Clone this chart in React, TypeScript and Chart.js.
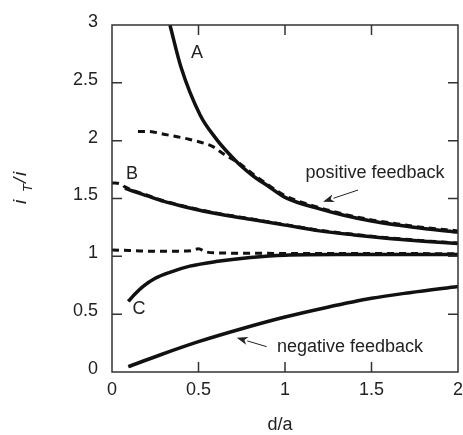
import React, { useEffect, useRef } from "react";
import { Chart, registerables } from "chart.js";

Chart.register(...registerables);

// Curve A (solid)
const xA = [0.335, 0.4, 0.51, 0.6, 0.68, 0.74, 0.82, 0.9, 1.0, 1.2, 1.34, 1.5, 1.65, 1.8, 2.0];
const yA = [3.0, 2.63, 2.22, 2.02, 1.88, 1.79, 1.69, 1.61, 1.51, 1.41, 1.355, 1.305, 1.27, 1.24, 1.21];
// Positive feedback theory (dashed)
const xPos = [0.15, 0.2, 0.32, 0.45, 0.58, 0.65, 0.74, 0.82, 0.9, 1.0, 1.2, 1.34, 1.5, 1.65, 1.8, 2.0];
const yPos = [2.08, 2.08, 2.05, 2.01, 1.95, 1.88, 1.8, 1.705, 1.62, 1.525, 1.42, 1.365, 1.315, 1.28, 1.25, 1.22];
// Curve B (solid)
const xB = [0.075, 0.12, 0.2, 0.3, 0.43, 0.6, 0.8, 1.0, 1.2, 1.4, 1.6, 1.8, 2.0];
const yB = [1.59, 1.565, 1.525, 1.475, 1.425, 1.37, 1.32, 1.27, 1.22, 1.185, 1.155, 1.13, 1.11];
// Dashed along B
const xBd = [0.0, 0.05, 0.075, 0.12, 0.2, 0.3, 0.43, 0.6, 0.8, 1.0, 1.2, 1.4, 1.6, 1.8, 2.0];
const yBd = [1.635, 1.625, 1.6, 1.57, 1.53, 1.48, 1.43, 1.375, 1.325, 1.275, 1.225, 1.19, 1.16, 1.135, 1.115];
// Flat dashed near 1
const xFlat = [0.0, 0.1, 0.2, 0.3, 0.4, 0.46, 0.5, 0.54, 0.6, 0.8, 1.0, 1.5, 2.0];
const yFlat = [1.055, 1.05, 1.045, 1.045, 1.045, 1.05, 1.065, 1.04, 1.03, 1.027, 1.025, 1.025, 1.022];
// Curve C (solid)
const xC = [0.094, 0.13, 0.18, 0.25, 0.33, 0.45, 0.6, 0.8, 1.0, 1.3, 1.6, 2.0];
const yC = [0.61, 0.67, 0.74, 0.81, 0.86, 0.915, 0.955, 0.99, 1.01, 1.015, 1.015, 1.015];
// Negative feedback (solid)
const xNeg = [0.094, 0.277, 0.5, 0.76, 1.0, 1.24, 1.5, 1.72, 2.0];
const yNeg = [0.046, 0.147, 0.262, 0.378, 0.475, 0.558, 0.637, 0.686, 0.74];

const xTicks = [0, 0.5, 1, 1.5, 2];
const yTicks = [0, 0.5, 1, 1.5, 2, 2.5, 3];

const labels = [
  { text: "A", x: 0.491, y: 2.757 },
  { text: "B", x: 0.116, y: 1.711 },
  { text: "C", x: 0.156, y: 0.545 },
  { text: "positive feedback", x: 1.52, y: 1.72 },
  { text: "negative feedback", x: 1.376, y: 0.216 },
];
const arrows = [
  { x0: 1.422, y0: 1.573, x1: 1.22, y1: 1.472 },
  { x0: 0.894, y0: 0.219, x1: 0.721, y1: 0.296 },
];

const FONT = "'Liberation Sans', Arial, sans-serif";

function pts(xs: number[], ys: number[]) {
  return xs.map((x, i) => ({ x, y: ys[i] }));
}

export default function App() {
  const ref = useRef<HTMLCanvasElement | null>(null);
  useEffect(() => {
    document.body.style.margin = "0";
    const canvas = ref.current!;
    const solid = (xs: number[], ys: number[]) => ({
      data: pts(xs, ys),
      borderColor: "#111",
      borderWidth: 3.5,
      pointRadius: 0,
      showLine: true,
      fill: false,
      cubicInterpolationMode: "monotone" as const,
    });
    const dashed = (xs: number[], ys: number[]) => ({
      data: pts(xs, ys),
      borderColor: "#111",
      borderWidth: 3,
      borderDash: [7, 5],
      pointRadius: 0,
      showLine: true,
      fill: false,
      cubicInterpolationMode: "monotone" as const,
    });

    const decor = {
      id: "decor",
      afterDraw(chart: any) {
        const ctx = chart.ctx as CanvasRenderingContext2D;
        const a = chart.chartArea;
        const xs = chart.scales.x;
        const ys = chart.scales.y;
        ctx.save();
        // frame
        ctx.strokeStyle = "#333";
        ctx.lineWidth = 1.5;
        ctx.strokeRect(a.left, a.top, a.right - a.left, a.bottom - a.top);
        // inward ticks
        const tl = 10;
        ctx.beginPath();
        xTicks.slice(1, -1).forEach((v) => {
          const px = xs.getPixelForValue(v);
          ctx.moveTo(px, a.bottom);
          ctx.lineTo(px, a.bottom - tl);
          ctx.moveTo(px, a.top);
          ctx.lineTo(px, a.top + tl);
        });
        yTicks.slice(1, -1).forEach((v) => {
          const py = ys.getPixelForValue(v);
          ctx.moveTo(a.left, py);
          ctx.lineTo(a.left + tl, py);
          ctx.moveTo(a.right, py);
          ctx.lineTo(a.right - tl, py);
        });
        ctx.stroke();

        // annotations
        ctx.fillStyle = "#222";
        ctx.font = `18px ${FONT}`;
        ctx.textAlign = "center";
        ctx.textBaseline = "middle";
        labels.forEach((l) => {
          ctx.fillText(l.text, xs.getPixelForValue(l.x), ys.getPixelForValue(l.y));
        });
        // arrows
        ctx.strokeStyle = "#222";
        ctx.lineWidth = 1;
        arrows.forEach((ar) => {
          const x0 = xs.getPixelForValue(ar.x0);
          const y0 = ys.getPixelForValue(ar.y0);
          const x1 = xs.getPixelForValue(ar.x1);
          const y1 = ys.getPixelForValue(ar.y1);
          const ang = Math.atan2(y1 - y0, x1 - x0);
          const hl = 11;
          const hw = 4;
          const bx = x1 - hl * Math.cos(ang);
          const by = y1 - hl * Math.sin(ang);
          ctx.beginPath();
          ctx.moveTo(x0, y0);
          ctx.lineTo(bx, by);
          ctx.stroke();
          ctx.beginPath();
          ctx.moveTo(x1, y1);
          ctx.lineTo(bx + hw * Math.sin(ang), by - hw * Math.cos(ang));
          ctx.lineTo(bx + 3 * Math.cos(ang), by + 3 * Math.sin(ang));
          ctx.lineTo(bx - hw * Math.sin(ang), by + hw * Math.cos(ang));
          ctx.closePath();
          ctx.fill();
        });

        // x title
        ctx.font = `18px ${FONT}`;
        ctx.textAlign = "center";
        ctx.textBaseline = "alphabetic";
        ctx.fillText("d/a", (a.left + a.right) / 2 - 5, 430);

        // y title: i_T/i rotated
        ctx.translate(26, 204);
        ctx.rotate(-Math.PI / 2);
        ctx.textAlign = "left";
        ctx.font = `italic 19px ${FONT}`;
        ctx.fillText("i", 0, 0);
        ctx.font = `italic 13px ${FONT}`;
        ctx.fillText("T", 12, 6);
        ctx.font = `italic 19px ${FONT}`;
        ctx.fillText("/", 21, 0);
        ctx.fillText("i", 28, 0);
        ctx.restore();
      },
    };

    const fmt = (v: any) => String(Number(v));

    const chart = new Chart(canvas, {
      type: "scatter",
      data: {
        datasets: [
          solid(xA, yA),
          dashed(xPos, yPos),
          solid(xB, yB),
          dashed(xBd, yBd),
          dashed(xFlat, yFlat),
          solid(xC, yC),
          solid(xNeg, yNeg),
        ],
      },
      options: {
        responsive: false,
        animation: false,
        layout: { padding: { left: 0, right: 5, top: 25, bottom: 0 } },
        plugins: { legend: { display: false }, tooltip: { enabled: false } },
        scales: {
          x: {
            type: "linear",
            min: 0,
            max: 2,
            afterBuildTicks: (s: any) => {
              s.ticks = xTicks.map((v) => ({ value: v }));
            },
            afterFit: (s: any) => {
              s.height = 63;
              s.paddingLeft = 0;
              s.paddingRight = 0;
            },
            grid: { display: false, drawTicks: false },
            border: { display: false },
            ticks: {
              padding: 7,
              color: "#222",
              font: { family: FONT, size: 18 },
              maxRotation: 0,
              callback: fmt,
            },
          },
          y: {
            type: "linear",
            min: 0,
            max: 3,
            afterBuildTicks: (s: any) => {
              s.ticks = yTicks.map((v) => ({ value: v }));
            },
            afterFit: (s: any) => {
              s.width = 112;
              s.paddingTop = 0;
              s.paddingBottom = 0;
            },
            grid: { display: false, drawTicks: false },
            border: { display: false },
            ticks: {
              padding: 14,
              labelOffset: -3,
              color: "#222",
              font: { family: FONT, size: 18 },
              callback: fmt,
            },
          },
        },
      },
      plugins: [decor],
    });
    return () => chart.destroy();
  }, []);
  return (
    <div style={{ width: 463, height: 435 }}>
      <canvas ref={ref} width={463} height={435} />
    </div>
  );
}
